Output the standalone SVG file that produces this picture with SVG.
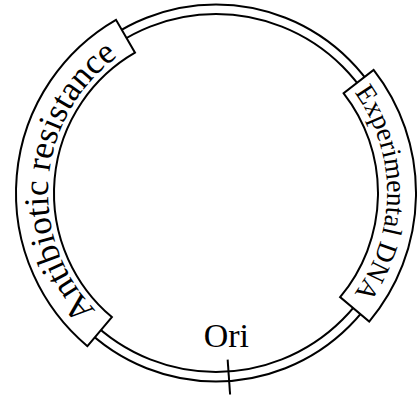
<svg xmlns="http://www.w3.org/2000/svg" width="417" height="396" viewBox="0 0 417 396">
  <style>
    .line { fill: none; stroke: #000; stroke-width: 2; }
    .box { fill: #fff; stroke: #000; stroke-width: 2; stroke-linejoin: miter; }
    .lbl { fill: #000; font-family: "Liberation Serif", "Times New Roman", serif; }
  </style>
  <defs>
    <path id="arcAnti" d="M 108.012 321.695 A 168 168 0 0 1 132 47.508"/>
    <path id="arcExp" d="M 346.994 83.083 A 171 171 0 0 1 346.994 302.917"/>
  </defs>
  <rect width="417" height="396" fill="#fff"/>
  <g id="connectors">
    <g id="plasmid">
      <circle class="line" cx="216" cy="193" r="188.5"/>
      <circle class="line" cx="216" cy="193" r="179"/>
    </g>
  </g>
  <g id="antibiotic">
    <path class="box" d="M 87.442 346.209 A 200 200 0 0 1 116 19.795 L 135 52.704 A 162 162 0 0 0 111.868 317.099 Z"/>
    <text class="lbl" font-family="Liberation Serif" font-size="35"><textPath href="#arcAnti" startOffset="50%" text-anchor="middle">Antibiotic resistance</textPath></text>
  </g>
  <g id="experimental">
    <path class="box" d="M 373.602 69.868 A 200 200 0 0 1 369.209 321.558 L 340.099 297.132 A 162 162 0 0 0 343.658 93.263 Z"/>
    <text class="lbl" font-family="Liberation Serif" font-size="27.5"><textPath href="#arcExp" startOffset="50%" text-anchor="middle">Experimental DNA</textPath></text>
  </g>
  <g id="ori">
    <line class="line" x1="227.649" y1="359.593" x2="230.091" y2="394.508"/>
    <text class="lbl" font-family="Liberation Serif" x="226.4" y="346.7" font-size="34" text-anchor="middle">Ori</text>
  </g>
</svg>
